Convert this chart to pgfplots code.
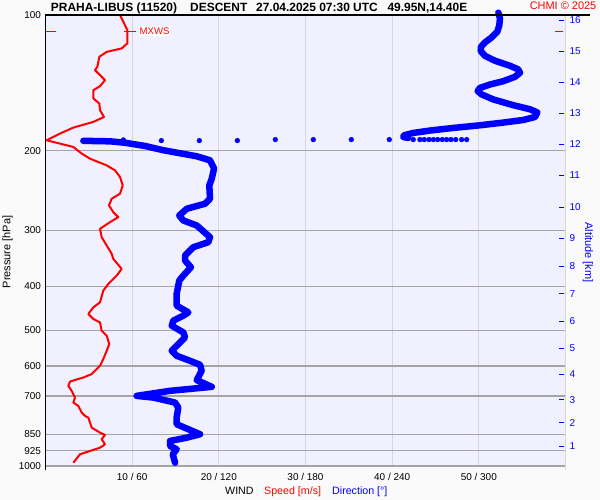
\documentclass[border=0pt]{standalone}
\usepackage{fontspec}
\setmainfont{Liberation Sans}
\usepackage{pgfplots}
\pgfplotsset{compat=1.18}
\definecolor{plotbg}{RGB}{240,240,255}
\definecolor{gridh}{RGB}{165,165,165}
\definecolor{gridv}{RGB}{215,215,215}
\definecolor{outbg}{RGB}{250,250,250}
\definecolor{dirblue}{RGB}{0,0,255}
\definecolor{spdred}{RGB}{255,0,0}
\begin{document}
\begin{tikzpicture}
\fill[outbg] (0,0) rectangle (600bp,500bp);
\path[use as bounding box] (0,0) rectangle (600bp,500bp);
% ---------- speed axis ----------
\begin{axis}[
  at={(45.5bp,34bp)}, anchor=south west,
  scale only axis, width=520bp, height=451bp,
  xmin=0, xmax=60, ymin=100, ymax=1000,
  ymode=log, y dir=reverse,
  axis background/.style={fill=plotbg},
  axis line style={draw=none},
  xtick={10,20,30,40,50},
  xticklabels={10 / 60,20 / 120,30 / 180,40 / 240,50 / 300},
  ytick={100,200,300,400,500,600,700,850,925,1000},
  yticklabels={100,200,300,400,500,600,700,850,925,1000},
  major tick length=0pt,
  xmajorgrids, ymajorgrids,
  x grid style={gridv, line width=1bp},
  y grid style={gridh, line width=1.3bp},
  tick label style={font=\fontsize{10}{12}\selectfont, black},
  xticklabel style={yshift=-4bp},
  yticklabel style={xshift=-1bp},
  clip=false,
]
\addplot[spdred, line width=2bp, line join=round] coordinates {
(8.60,100) (9.44,108.0) (9.44,115.6) (8.79,118.6) (7.06,120.7) (6.21,123.8)
(5.98,130.3) (5.71,132.5) (6.29,135.9) (6.87,139.5) (6.29,143.8) (5.52,146.8)
(5.52,153.1) (6.21,157.1) (6.29,162.6) (6.75,168.3) (5.52,172.6) (3.21,177.7)
(1.67,183.2) (0.14,189.6) (1.67,192.8) (3.21,196.2) (4.18,202.9) (5.13,208.2)
(7.06,215.5) (8.02,221.0) (8.60,228.7) (8.91,238.7) (8.60,249.0) (7.64,255.5)
(7.33,264.4) (7.82,273.6) (8.40,280.7) (7.44,288.0) (6.29,297.9) (6.48,310.9)
(7.06,324.4) (7.64,338.5) (7.82,347.3) (8.79,365.5) (8.22,378.3) (7.25,394.7)
(6.67,408.4) (6.29,433.6) (5.52,444.9) (4.94,460.1) (5.52,472.1) (6.29,480.4)
(6.48,501.2) (7.06,514.2) (7.36,536.5) (7.06,555.2) (6.67,579.3) (6.29,599.5)
(5.71,615.0) (5.33,625.5) (4.36,636.5) (2.83,649.6) (2.63,664.1) (3.02,681.3)
(3.40,705.1) (3.21,723.3) (3.78,735.6) (4.18,761.3) (4.56,774.3) (4.94,781.0)
(5.33,822.0) (6.29,843.3) (6.87,853.3) (6.48,872.3) (6.87,894.9) (6.29,910.6)
(5.13,926.1) (3.98,941.9) (3.21,983.3)
};
% MXWS markers
\draw[spdred, line width=1bp] (axis cs:0,108.8) -- (axis cs:1.25,108.8);
\draw[spdred, line width=1bp] (axis cs:9.06,108.8) -- (axis cs:10.44,108.8);
\node[anchor=west, fill=white, inner sep=0.8bp, text=spdred, font=\fontsize{9.6}{11}\selectfont] at (axis cs:10.75,108.8) {MXWS};
\end{axis}
% ---------- direction axis + altitude ----------
\begin{axis}[
  at={(45.5bp,34bp)}, anchor=south west,
  scale only axis, width=520bp, height=451bp,
  xmin=0, xmax=360, ymin=100, ymax=1000,
  ymode=log, y dir=reverse,
  axis line style={draw=none},
  xtick=\empty,
  ytick={902.8,801.3,712.4,625.5,547.5,477.8,415.4,360.7,312.6,266.7,226.8,193.5,165.4,141.1,120.4,102.6},
  yticklabels={1,2,3,4,5,6,7,8,9,10,11,12,13,14,15,16},
  ytick pos=right, yticklabel pos=right,
  tick align=inside, major tick length=5bp,
  y tick style={dirblue, line width=0.9bp, xshift=-1.2bp},
  yticklabel style={text=dirblue, font=\fontsize{10}{12}\selectfont, xshift=0.5bp},
  clip=false,
]
\addplot[dirblue, line width=6.5bp, line join=round, line cap=round] coordinates {
(313.5,98.8) (314.6,101.7) (314.2,105.3) (312.8,108.9) (308.9,112.1) (304.3,115.0)
(301.5,117.6) (301.3,120.2) (304.3,123.2) (311.2,126.3) (321.6,129.6) (327.3,132.0)
(328.5,134.3) (325.0,137.1) (316.9,140.2) (307.7,142.6) (300.8,145.1) (299.2,147.5)
(302.0,150.0) (310.0,153.9) (323.9,158.5) (335.4,161.8) (340.5,164.5) (338.9,168.3)
(330.8,170.9) (316.9,173.2) (300.8,175.6) (282.3,178.0) (266.2,180.4) (254.6,182.6)
(248.2,184.8) (247.7,186.4) (251.2,187.4)
};
\addplot[dirblue, line width=6.5bp, line join=round, line cap=round] coordinates {
(26.2,190.1) (44.7,190.6) (55.0,192.0) (68.9,195.2) (81.6,199.5) (104.7,205.7)
(113.9,210.0) (116.7,219.1) (115.1,230.6) (113.4,238.7) (113.9,255.5) (110.4,262.1)
(97.8,268.9) (92.6,278.3) (95.4,285.5) (104.7,292.9) (113.9,310.9) (112.7,319.0)
(102.3,327.3) (96.6,341.5) (96.6,350.3) (100.7,362.5) (95.4,378.3) (92.6,388.1)
(90.8,415.4) (90.8,441.0) (98.9,456.4) (95.4,464.2) (88.5,476.2) (87.4,488.5)
(95.4,505.6) (96.6,518.7) (90.8,541.2) (87.4,555.2) (90.8,569.6) (100.0,584.4)
(107.0,596.4) (108.1,615.0) (104.7,645.0) (115.1,667.5) (86.2,681.3) (63.1,699.0)
(74.6,705.1) (89.7,723.3) (91.9,742.1) (90.8,781.0) (90.8,807.9) (98.9,828.8)
(107.0,850.3) (97.8,865.2) (86.2,879.9) (86.2,902.7) (90.8,918.1) (88.1,941.9)
(89.7,983.3)
};
\addplot[dirblue, only marks, mark=*, mark size=2.4bp] coordinates {
(53.9,189.3) (80.2,189.9) (106.5,189.9) (132.8,189.9) (159.1,188.9) (185.4,188.9)
(211.7,188.9) (238.0,188.9)
(254.6,188.9) (259.2,188.9) (262.2,188.9) (265.5,188.9) (268.5,188.9) (271.5,188.9)
(274.7,188.9) (277.7,188.9) (280.7,188.9) (284.0,188.9) (288.1,188.9) (291.6,188.9)
};
\end{axis}
% ---------- frame lines ----------
\draw[gridv, line width=1bp] (565.5bp,485bp) -- (565.5bp,30bp);
\draw[black, line width=1.3bp] (45.5bp,485bp) -- (45.5bp,30bp);
\draw[black, line width=1.3bp] (45bp,485bp) -- (590bp,485bp);
\draw[spdred, line width=1bp] (555bp,468.7bp) -- (563bp,468.7bp);
% ---------- texts ----------
\begin{scope}[every node/.style={inner sep=0pt, font=\fontsize{12}{14}\selectfont\bfseries}]
\node[anchor=base west] at (50.7bp,488.3bp) {PRAHA-LIBUS (11520)};
\node[anchor=base west] at (190bp,488.3bp) {DESCENT};
\node[anchor=base west] at (256bp,488.3bp) {27.04.2025 07:30 UTC};
\node[anchor=base west] at (387.3bp,488.3bp) {49.95N,14.40E};
\end{scope}
\node[anchor=base east, inner sep=0pt, text=spdred, font=\fontsize{11}{13}\selectfont] at (596.5bp,490bp) {CHMI © 2025};
\node[rotate=90, inner sep=0pt, font=\fontsize{11}{13}\selectfont] at (7.5bp,248bp) {Pressure [hPa]};
\node[rotate=-90, inner sep=0pt, text=dirblue, font=\fontsize{11}{13}\selectfont] at (588bp,247.5bp) {Altitude [km]};
\begin{scope}[every node/.style={inner sep=0pt, anchor=base west, font=\fontsize{10.7}{13}\selectfont}]
\node at (225bp,6bp) {WIND};
\node[text=spdred] at (264bp,6bp) {Speed [m/s]};
\node[text=dirblue] at (332bp,6bp) {Direction [°]};
\end{scope}
\end{tikzpicture}
\end{document}
